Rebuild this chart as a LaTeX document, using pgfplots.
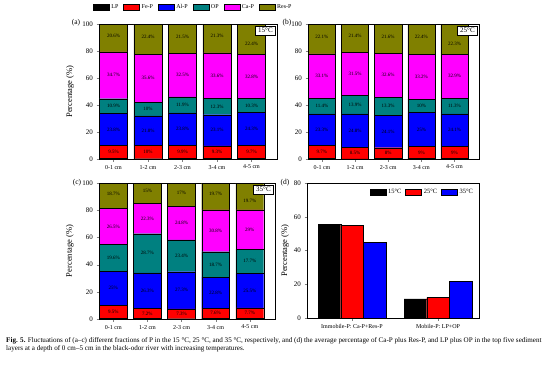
\documentclass[border=0pt]{standalone}
\usepackage{pgfplots}
\pgfplotsset{compat=1.18}
\usepackage{pgfplotstable}
\usepackage{fontspec}
\setmainfont{Liberation Serif}

\definecolor{cLP}{RGB}{0,0,0}
\definecolor{cFe}{RGB}{255,0,0}
\definecolor{cAl}{RGB}{0,0,255}
\definecolor{cOP}{RGB}{0,128,128}
\definecolor{cCa}{RGB}{255,0,255}
\definecolor{cRes}{RGB}{128,128,0}

% 15 C
\pgfplotstableread{
X LP Fe Al OP Ca Res
0 0.5 9.5 23.8 10.9 34.7 20.6
1 0.2 10 21.8 10 35.6 22.4
2 0.4 9.9 23.8 11.9 32.5 21.5
3 0.4 9.3 23.1 12.3 33.6 21.3
4 0.5 9.7 24.3 10.3 32.8 22.4
}\tA
% 25 C
\pgfplotstableread{
X LP Fe Al OP Ca Res
0 0.4 9.7 23.3 11.4 33.1 22.1
1 0.1 8.5 24.8 13.9 31.5 21.4
2 0.4 8 24.1 13.3 32.6 21.6
3 0.4 9 25 10 33.2 22.4
4 0.4 9 24.1 11.3 32.9 22.3
}\tB
% 35 C
\pgfplotstableread{
X LP Fe Al OP Ca Res
0 0.7 9.5 25.0 19.6 26.5 18.7
1 0.5 7.2 26.3 28.7 22.3 15
2 0.2 7.3 27.3 23.4 24.8 17
3 0.4 7.6 22.8 18.7 30.8 19.7
4 0.4 7.7 25.5 17.7 29 19.7
}\tC

\pgfplotsset{
  /pgf/number format/assume math mode=true,
  stackax/.style={
    scale only axis, ybar stacked, bar width=0.82,
    xmin=-0.42, xmax=4.74, ymin=0, ymax=100,
    xtick={0,...,4}, xticklabels={0-1 cm,1-2 cm,2-3 cm,3-4 cm,4-5 cm},
    ytick={0,20,...,100},
    tick align=outside, xtick pos=bottom, ytick pos=left,
    major tick length=2.5pt,
    x tick label style={font=\fontsize{6}{7}\selectfont},
    y tick label style={font=\fontsize{7}{8}\selectfont},
    every axis plot/.append style={draw=black, line width=0.3pt},
    axis line style={line width=0.5pt},
  },
  stacklegend/.style={
    legend columns=6,
    legend style={at={(0.53,1.125)}, anchor=center, draw=none, fill=none,
      font=\fontsize{6}{7}\selectfont, inner sep=0pt,
      /tikz/every even column/.append style={column sep=3pt}},
    legend image code/.code={\draw[##1, line width=0.3pt] (0pt,-2.6pt) rectangle (16pt,2.6pt);},
    legend entries={LP,Fe-P,Al-P,OP,Ca-P,Res-P},
  },
  labax/.style={
    scale only axis, hide axis,
    xmin=-0.42, xmax=4.74, ymin=0, ymax=100,
    every axis plot/.append style={only marks, mark=*, mark size=0pt,
      mark options={draw=none, fill=none},
      nodes near coords={\pgfmathprintnumber{\pgfplotspointmeta}\%},
      point meta=explicit,
      every node near coord/.append style={anchor=center, text=black,
        font=\fontsize{5}{5.5}\selectfont, inner sep=0pt}},
  },
  ylab/.style={ylabel={Percentage (\%)},
    y label style={at={(axis description cs:#1,0.5)}, anchor=center,
      font=\fontsize{8.5}{10}\selectfont}},
}

\newcommand{\stackpanel}[5]{%
\begin{axis}[stackax, at={#1}, width=#2, height=#3, #5]
  \addplot[fill=cLP] table[x=X,y=LP]{#4};
  \addplot[fill=cFe] table[x=X,y=Fe]{#4};
  \addplot[fill=cAl] table[x=X,y=Al]{#4};
  \addplot[fill=cOP] table[x=X,y=OP]{#4};
  \addplot[fill=cCa] table[x=X,y=Ca]{#4};
  \addplot[fill=cRes] table[x=X,y=Res]{#4};
\end{axis}
\begin{axis}[labax, at={#1}, width=#2, height=#3]
  \addplot table[x=X, y expr=\thisrow{LP}+0.5*\thisrow{Fe}, meta=Fe]{#4};
  \addplot table[x=X, y expr=\thisrow{LP}+\thisrow{Fe}+0.5*\thisrow{Al}, meta=Al]{#4};
  \addplot table[x=X, y expr=\thisrow{LP}+\thisrow{Fe}+\thisrow{Al}+0.5*\thisrow{OP}, meta=OP]{#4};
  \addplot table[x=X, y expr=\thisrow{LP}+\thisrow{Fe}+\thisrow{Al}+\thisrow{OP}+0.5*\thisrow{Ca}, meta=Ca]{#4};
  \addplot table[x=X, y expr={\thisrow{LP}+\thisrow{Fe}+\thisrow{Al}+\thisrow{OP}+\thisrow{Ca}+0.5*\thisrow{Res}+ifthenelse(\thisrow{X}==4,-3.5,1.5)}, meta=Res]{#4};
\end{axis}
}

\begin{document}
\begin{tikzpicture}[x=1pt,y=1pt]
\path[use as bounding box] (0,0) rectangle (554,368);

% (a)
\stackpanel{(99pt,209pt)}{178pt}{135pt}{\tA}{ylab=-0.163, stacklegend}
% (b)
\stackpanel{(308pt,209pt)}{171pt}{135pt}{\tB}{}
% (c)
\stackpanel{(99pt,49pt)}{176pt}{136pt}{\tC}{ylab=-0.165}

% temperature boxes
\tikzset{tbox/.style={draw, fill=white, anchor=north east, inner sep=2.6pt,
    line width=0.4pt, font=\fontsize{7}{7.5}\selectfont}}
\node[tbox] at (275.5,342.5) {15°C};
\node[tbox] at (477.5,342.5) {25°C};
\node[tbox] at (273.5,183.5) {35°C};

% (d)
\begin{axis}[scale only axis, at={(307pt,50pt)}, width=172pt, height=135pt,
  ybar=0pt, bar width=0.262,
  xmin=-0.523, xmax=1.477, ymin=0, ymax=80,
  xtick={0,1}, xticklabels={Immobile-P: Ca-P+Res-P, Mobile-P: LP+OP},
  ytick={0,20,...,80},
  tick align=outside, xtick pos=bottom, ytick pos=left,
  major tick length=2.5pt,
  x tick label style={font=\fontsize{6}{7}\selectfont},
  y tick label style={font=\fontsize{7}{8}\selectfont},
  ylab=-0.128,
  every axis plot/.append style={draw=black, line width=0.3pt},
  legend columns=3,
  legend style={at={(0.995,0.985)}, anchor=north east, draw=none, fill=none,
    font=\fontsize{6.5}{7}\selectfont,
    /tikz/every even column/.append style={column sep=2pt}},
  legend image code/.code={\draw[#1, line width=0.3pt] (0pt,-3pt) rectangle (16pt,3pt);},
]
  \addplot[fill=black] coordinates {(0,55.5) (1,11.3)};
  \addplot[fill=red] coordinates {(0,54.8) (1,12.1)};
  \addplot[fill=blue] coordinates {(0,44.8) (1,21.8)};
  \legend{15°C,25°C,35°C}
\end{axis}

% panel letters
\node[font=\fontsize{7.5}{8}\selectfont] at (76,345) {(a)};
\node[font=\fontsize{7.5}{8}\selectfont] at (287,345) {(b)};
\node[font=\fontsize{7.5}{8}\selectfont] at (77,185) {(c)};
\node[font=\fontsize{7.5}{8}\selectfont] at (285,185) {(d)};

% caption
\node[anchor=north west, align=left, inner sep=0pt,
  font=\fontsize{7.1}{8}\selectfont] at (6,31)
  {\textbf{Fig. 5.} Fluctuations of (a–c) different fractions of P in the 15 °C, 25 °C, and 35 °C, respectively, and (d) the average percentage of Ca-P plus Res-P, and LP plus OP in the top five sediment\\
  layers at a depth of 0 cm–5 cm in the black-odor river with increasing temperatures.};
\end{tikzpicture}
\end{document}
